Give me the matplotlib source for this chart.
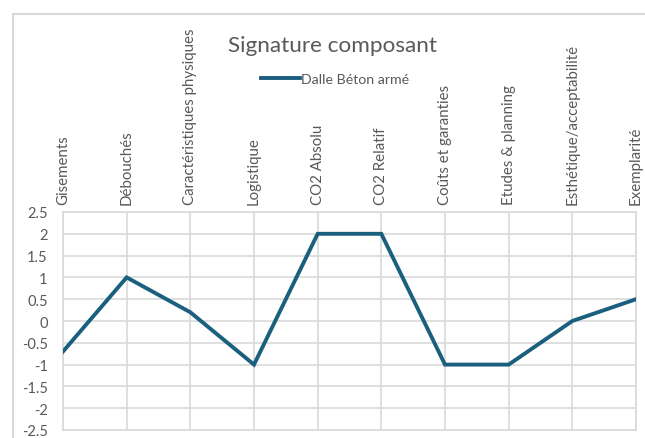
import matplotlib.pyplot as plt
from matplotlib.lines import Line2D

categories = ["Gisements", "Débouchés", "Caractéristiques physiques", "Logistique",
              "CO2 Absolu", "CO2 Relatif", "Coûts et garanties", "Etudes & planning",
              "Esthétique/acceptabilité", "Exemplarité"]
values = [-0.7, 1, 0.2, -1, 2, 2, -1, -1, 0, 0.5]
series_name = "Dalle Béton armé"
yticks = [-2.5, -2, -1.5, -1, -0.5, 0, 0.5, 1, 1.5, 2, 2.5]

plt.rcParams['font.family'] = ['Lato', 'DejaVu Sans']
text_col = '#595959'
grid_col = '#D9D9D9'
line_col = '#1B5F7E'

W, H = 645, 439
fig = plt.figure(figsize=(W / 100, H / 100), dpi=100)

# plot area in pixel units
left, right, top, bottom = 63, 636, 213, 431
ax = fig.add_axes([left / W, 1 - bottom / H, (right - left) / W, (bottom - top) / H])

x = list(range(len(categories)))
ax.plot(x, values, color=line_col, lw=2.8, solid_joinstyle='miter', label=series_name, zorder=3)

ax.set_xlim(0, len(categories) - 1)
ax.set_ylim(-2.5, 2.5)
ax.set_xticks(x)
ax.set_xticklabels(categories, rotation=90, fontsize=10.8, color=text_col)
ax.xaxis.tick_top()
ax.set_yticks(yticks)
ax.set_yticklabels([f"{v:g}" for v in yticks], fontsize=10.5, color=text_col)
ax.tick_params(axis='both', length=0)
ax.tick_params(axis='x', pad=6)
ax.tick_params(axis='y', pad=11)
ax.grid(True, color=grid_col, lw=1.2)
ax.set_axisbelow(True)
for s in ax.spines.values():
    s.set_color(grid_col)
    s.set_linewidth(1.2)

fig.text(332 / W, 1 - 46 / H, "Signature composant", ha='center', va='center',
         fontsize=16.2, color=text_col)
fig.legend(loc='center', bbox_to_anchor=(335 / W, 1 - 80 / H), frameon=False,
           fontsize=10.2, labelcolor=text_col, handlelength=2.8, handletextpad=0.05)

# chart area border
fig.add_artist(Line2D([13 / W, 1], [1 - 15 / H] * 2, color=grid_col, lw=1.5))
fig.add_artist(Line2D([13 / W] * 2, [0, 1 - 15 / H], color=grid_col, lw=1.5))

fig.savefig("out.png", dpi=100)
